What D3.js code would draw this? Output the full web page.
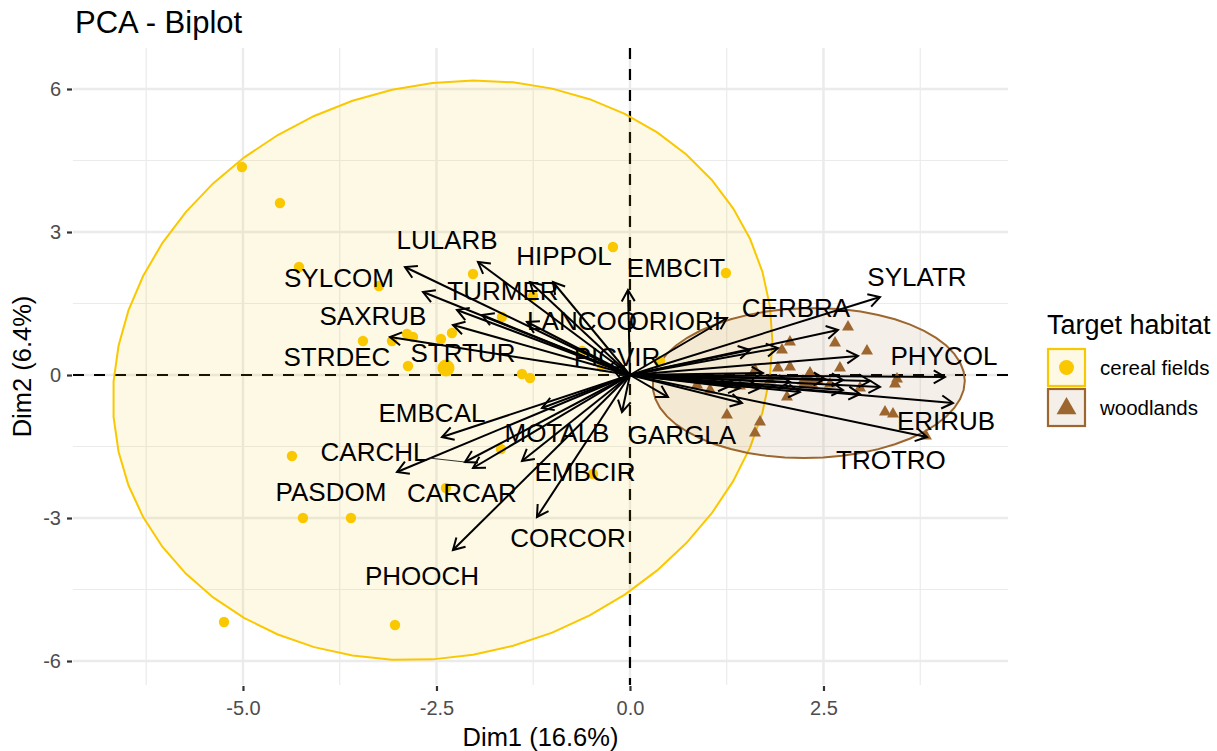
<!DOCTYPE html>
<html>
<head>
<meta charset="utf-8">
<script src="https://cdn.jsdelivr.net/npm/d3@7"></script>
<style>
  body { margin: 0; background: #ffffff; }
  text { font-family: "Liberation Sans", Arial, Helvetica, sans-serif; }
</style>
</head>
<body>
<svg id="chart" width="1217" height="751"></svg>
<script>
// ---- axis breaks ----
const dim1Breaks = [-5, -2.5, 0, 2.5];
const dim1Minor = [-6.25, -3.75, -1.25, 1.25, 3.75];
const dim2Breaks = [-6, -3, 0, 3, 6];
const dim2Minor = [-4.5, -1.5, 1.5, 4.5];
const dim1Labels = ["-5.0", "-2.5", "0.0", "2.5"];
const dim2Labels = ["-6", "-3", "0", "3", "6"];

// ---- groups ----
const habitats = ["cereal fields", "woodlands"];
const habitatColors = ["#FAC800", "#9C662E"];

// individuals: cereal fields
const cerealX = [-5.013, -4.522, -4.276, -3.243, -2.028, -0.220, -1.253, -1.654, -2.300, -2.442,
                 -2.881, -2.804, -3.075, -3.450, -2.868, -1.395, -1.292, -0.620, -0.362, 1.240,
                 0.388, -4.367, -4.225, -3.605, -2.377, -1.667, -0.478, -5.245, -3.036];
const cerealY = [4.363, 3.608, 2.266, 1.867, 2.119, 2.685, 1.657, 1.217, 0.881, 0.755,
                 0.860, 0.797, 0.713, 0.713, 0.189, 0.021, -0.063, 0.503, 0.168, 2.140,
                 0.294, -1.699, -3.000, -3.000, -2.370, -1.552, -2.077, -5.181, -5.244];

// individuals: woodlands
const woodX = [2.817, 2.649, 3.062, 2.067, 1.964, 1.912, 2.067, 2.326, 2.713, 1.615,
               3.450, 3.424, 2.972, 2.028, 0.866, 1.034, 1.253, 1.680, 1.615, 3.295,
               3.398, 3.824, 2.235, 2.429, 2.584, 1.809, 1.421];
const woodY = [1.007, 0.671, 0.503, 0.692, 0.524, 0.147, 0.168, 0.042, 0.147, 0.105,
               -0.084, -0.189, -0.273, -0.462, -0.210, -0.315, -0.839, -0.986, -1.217, -0.776,
               -0.818, -1.280, -0.126, -0.126, -0.189, -0.105, -0.231];

// group centres
const meanX = [-2.377, 2.30];
const meanY = [0.147, -0.13];

// concentration ellipses (centre, spread along each axis, correlation)
const ellipseCx = [-2.42, 2.31];
const ellipseCy = [0.10, -0.168];
const ellipseRx = [4.26, 2.016];
const ellipseRy = [6.08, 1.573];
const ellipseRho = [0.10, 0.03];

// variables: arrow tips and label anchors (null label = not labelled)
const varNames = ["LULARB", "HIPPOL", null, "EMBCIT", "SYLCOM", "SAXRUB", null, "TURMER", "LANCOO", "STRTUR",
                  "STRDEC", "ORIORI", "CERBRA", "SYLATR", null, null, null, "PHYCOL", null, null,
                  null, "ERIRUB", "TROTRO", null, "GARGLA", null, null, null, null, "PICVIR",
                  "EMBCAL", "MOTALB", "PASDOM", "CARCHL", "CARCAR", "EMBCIR", "CORCOR", "PHOOCH", null, null,
                  null, null, null, null];
const varX = [-1.964, -0.995, -1.292, -0.026, -2.907, -2.674, -2.235, -1.912, -1.331, -2.287,
              -3.101, 1.253, 2.687, 3.230, 1.912, 1.550, 2.946, 4.070, 3.230, 2.752,
              2.752, 4.173, 3.837, 1.447, 0.491, 1.718, 1.680, 1.292, 2.067, -0.233,
              -2.429, -1.137, -3.010, -2.132, -2.028, -1.395, -1.202, -2.287, -0.103, 1.421,
              3.101, 2.519, 2.196, 2.972];
const varY = [2.370, 1.951, 1.951, 1.783, 2.266, 1.741, 1.364, 1.259, 1.112, 1.049,
              0.797, 1.196, 0.944, 1.636, 0.566, 0.524, 0.399, -0.042, -0.252, -0.105,
              -0.315, -0.587, -1.301, -0.587, -0.462, 0.042, -0.273, -0.231, -0.147, 0.147,
              -1.301, -0.692, -2.035, -1.825, -1.951, -1.804, -2.979, -3.671, -0.776, -0.273,
              -0.126, -0.084, -0.357, -0.399];
const labelX = [-2.364, -0.853, null, 0.594, -3.760, -3.320, null, -1.641, -0.620, -2.158,
                -3.786, 0.580, 2.145, 3.708, null, null, null, 4.057, null, null,
                null, 4.083, 3.372, null, 0.672, null, null, null, null, -0.168,
                -2.558, -0.943, -3.863, -3.307, -2.171, -0.581, -0.801, -2.687, null, null,
                null, null, null, null];
const labelY = [2.832, 2.496, null, 2.245, 2.035, 1.238, null, 1.762, 1.133, 0.462,
                0.378, 1.133, 1.406, 2.056, null, null, null, 0.399, null, null,
                null, -0.965, -1.783, null, -1.259, null, null, null, null, 0.378,
                -0.797, -1.217, -2.454, -1.615, -2.475, -2.035, -3.419, -4.217, null, null,
                null, null, null, null];
const connectorVars = ["CARCHL"];

// ---- layout ----
const svg = d3.select("#chart");
const panel = { left: 73, right: 1008, top: 48, bottom: 685 };
const x = d3.scaleLinear().domain([-7.196, 4.884]).range([panel.left, panel.right]);
const y = d3.scaleLinear().domain([-6.503, 6.86]).range([panel.bottom, panel.top]);

const gridColor = "#EBEBEB";
const g = svg.append("g");

// minor grid
g.selectAll(".vminor").data(dim1Minor).enter().append("line")
  .attr("x1", d => x(d)).attr("x2", d => x(d))
  .attr("y1", panel.top).attr("y2", panel.bottom)
  .attr("stroke", gridColor).attr("stroke-width", 1.2);
g.selectAll(".hminor").data(dim2Minor).enter().append("line")
  .attr("y1", d => y(d)).attr("y2", d => y(d))
  .attr("x1", panel.left).attr("x2", panel.right)
  .attr("stroke", gridColor).attr("stroke-width", 1.2);
// major grid
g.selectAll(".vmajor").data(dim1Breaks).enter().append("line")
  .attr("x1", d => x(d)).attr("x2", d => x(d))
  .attr("y1", panel.top).attr("y2", panel.bottom)
  .attr("stroke", gridColor).attr("stroke-width", 2.4);
g.selectAll(".hmajor").data(dim2Breaks).enter().append("line")
  .attr("y1", d => y(d)).attr("y2", d => y(d))
  .attr("x1", panel.left).attr("x2", panel.right)
  .attr("stroke", gridColor).attr("stroke-width", 2.4);

// axes (ticks + labels, no domain line)
const xAxis = d3.axisBottom(x).tickValues(dim1Breaks)
  .tickFormat((d, i) => dim1Labels[i]).tickSize(5).tickPadding(10);
const xg = svg.append("g").attr("transform", `translate(0,${panel.bottom + 1})`).call(xAxis);
const yAxis = d3.axisLeft(y).tickValues(dim2Breaks)
  .tickFormat((d, i) => dim2Labels[i]).tickSize(5).tickPadding(6);
const yg = svg.append("g").attr("transform", `translate(${panel.left - 1},0)`).call(yAxis);
[xg, yg].forEach(a => {
  a.select(".domain").remove();
  a.selectAll(".tick line").attr("stroke", "#333333").attr("stroke-width", 2.2);
  a.selectAll(".tick text").attr("fill", "#4D4D4D").style("font-size", "20px")
    .style("font-family", "'Liberation Sans', Arial, sans-serif");
});

// reference lines through the origin
const refLines = svg.append("g");
refLines.append("line")
  .attr("x1", panel.left).attr("x2", panel.right)
  .attr("y1", y(0)).attr("y2", y(0))
  .attr("stroke", "#000").attr("stroke-width", 2.2).attr("stroke-dasharray", "11,10");
refLines.append("line")
  .attr("x1", x(0)).attr("x2", x(0))
  .attr("y1", panel.top).attr("y2", panel.bottom)
  .attr("stroke", "#000").attr("stroke-width", 2.2).attr("stroke-dasharray", "11,10");

// concentration ellipses (51-segment polygons)
const ellipseG = svg.append("g");
habitats.forEach((h, i) => {
  const pts = d3.range(52).map(k => {
    const t = (k / 51) * 2 * Math.PI;
    const vx = ellipseRx[i] * Math.cos(t);
    const vy = ellipseRy[i] * (ellipseRho[i] * Math.cos(t) + Math.sqrt(1 - ellipseRho[i] ** 2) * Math.sin(t));
    return [x(ellipseCx[i] + vx), y(ellipseCy[i] + vy)];
  });
  ellipseG.append("path")
    .attr("d", d3.line()(pts) + "Z")
    .attr("fill", habitatColors[i]).attr("fill-opacity", 0.1)
    .attr("stroke", habitatColors[i]).attr("stroke-width", 2);
});

// individuals
const pointsG = svg.append("g");
pointsG.selectAll(".cereal").data(d3.range(cerealX.length)).enter().append("circle")
  .attr("cx", i => x(cerealX[i])).attr("cy", i => y(cerealY[i])).attr("r", 5.2)
  .attr("fill", habitatColors[0]);
const tri = d3.symbol().type(d3.symbolTriangle);
pointsG.selectAll(".wood").data(d3.range(woodX.length)).enter().append("path")
  .attr("d", tri.size(62)())
  .attr("transform", i => `translate(${x(woodX[i])},${y(woodY[i])})`)
  .attr("fill", habitatColors[1]);
// group centres
pointsG.append("circle").attr("cx", x(meanX[0])).attr("cy", y(meanY[0])).attr("r", 8.5)
  .attr("fill", habitatColors[0]);
pointsG.append("path").attr("d", tri.size(170)())
  .attr("transform", `translate(${x(meanX[1])},${y(meanY[1])})`)
  .attr("fill", habitatColors[1]);

// variable arrows
const arrowG = svg.append("g");
const headLen = 13, headAng = Math.PI / 6;
varX.forEach((vx, i) => {
  const x0 = x(0), y0 = y(0), x1 = x(vx), y1 = y(varY[i]);
  arrowG.append("line").attr("x1", x0).attr("y1", y0).attr("x2", x1).attr("y2", y1)
    .attr("stroke", "#000").attr("stroke-width", 2);
  const ang = Math.atan2(y1 - y0, x1 - x0);
  const p = d3.path();
  p.moveTo(x1 - headLen * Math.cos(ang - headAng), y1 - headLen * Math.sin(ang - headAng));
  p.lineTo(x1, y1);
  p.lineTo(x1 - headLen * Math.cos(ang + headAng), y1 - headLen * Math.sin(ang + headAng));
  arrowG.append("path").attr("d", p.toString())
    .attr("fill", "none").attr("stroke", "#000").attr("stroke-width", 2)
    .attr("stroke-linejoin", "miter");
});

// variable labels
const labelG = svg.append("g");
varNames.forEach((name, i) => {
  if (name === null) return;
  const lx = x(labelX[i]), ly = y(labelY[i]);
  const t = labelG.append("text").attr("x", lx).attr("y", ly).attr("dy", "0.36em")
    .attr("text-anchor", "middle").style("font-size", "26px").attr("fill", "#000").text(name);
  if (connectorVars.includes(name)) {
    const bb = t.node().getBBox();
    const tx = x(varX[i]), ty = y(varY[i]);
    const dx = tx - lx, dy = ty - ly;
    const hw = bb.width / 2 + 2, hh = bb.height / 2 - 2;
    const s = Math.min(hw / Math.abs(dx || 1e-9), hh / Math.abs(dy || 1e-9));
    if (s < 1) {
      labelG.append("line")
        .attr("x1", lx + s * dx).attr("y1", ly + s * dy)
        .attr("x2", tx).attr("y2", ty)
        .attr("stroke", "#333").attr("stroke-width", 1);
    }
  }
});

// titles
svg.append("text").attr("x", 75).attr("y", 33).style("font-size", "31px").attr("fill", "#000")
  .text("PCA - Biplot");
svg.append("text").attr("x", (panel.left + panel.right) / 2).attr("y", 746)
  .attr("text-anchor", "middle").style("font-size", "25.5px").attr("fill", "#000")
  .text("Dim1 (16.6%)");
svg.append("text")
  .attr("transform", `translate(31,${(panel.top + panel.bottom) / 2}) rotate(-90)`)
  .attr("text-anchor", "middle").style("font-size", "25.5px").attr("fill", "#000")
  .text("Dim2 (6.4%)");

// legend
const legend = svg.append("g").attr("transform", "translate(1047,0)");
legend.append("text").attr("x", 0).attr("y", 334).style("font-size", "27px").attr("fill", "#000")
  .text("Target habitat");
habitats.forEach((h, i) => {
  const top = 349 + i * 40;
  legend.append("rect").attr("x", 1).attr("y", top).attr("width", 37).attr("height", 37)
    .attr("fill", habitatColors[i]).attr("fill-opacity", 0.1)
    .attr("stroke", habitatColors[i]).attr("stroke-width", 2.2);
  const cx = 19.5, cy = top + 18.5;
  if (i === 0) {
    legend.append("circle").attr("cx", cx).attr("cy", cy).attr("r", 7.5).attr("fill", habitatColors[i]);
  } else {
    legend.append("path").attr("d", d3.symbol().type(d3.symbolTriangle).size(170)())
      .attr("transform", `translate(${cx},${cy + 1})`).attr("fill", habitatColors[i]);
  }
  legend.append("text").attr("x", 53).attr("y", cy).attr("dy", "0.36em")
    .style("font-size", "20.5px").attr("fill", "#000").text(h);
});
</script>
</body>
</html>
